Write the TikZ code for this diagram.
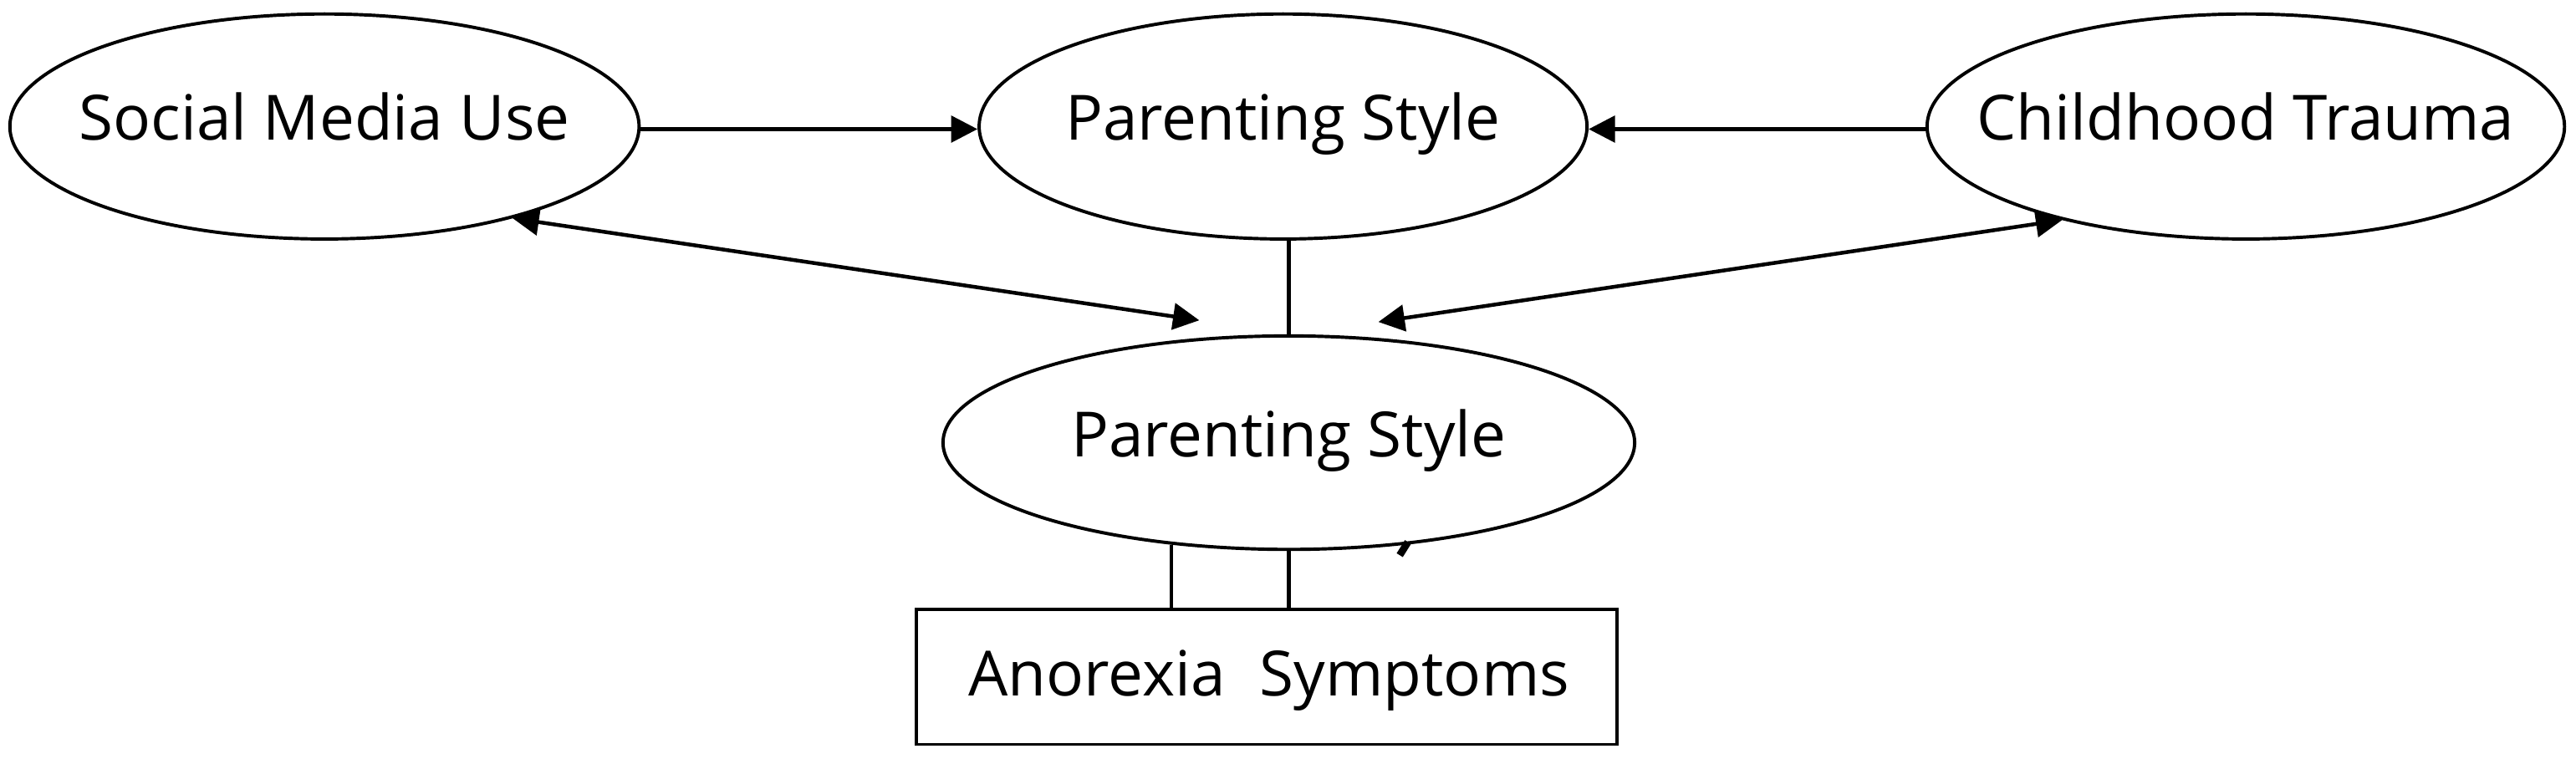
\documentclass[tikz,border=0pt]{standalone}
\usepackage{fontspec}
\setmainfont{Open Sans}
\usetikzlibrary{shapes.geometric,arrows.meta,calc}
\begin{document}
\begin{tikzpicture}[x=0.5pt,y=-0.5pt,
  oval/.style={draw,line width=1pt,ellipse,inner sep=0pt},
  rectbox/.style={draw,line width=1pt,rectangle,inner sep=0pt},
  lbl/.style={anchor=base,inner sep=0pt,font=\fontsize{19}{22}\selectfont},
  conn/.style={line width=1.15pt},
  arr/.style={conn,-{Triangle[length=8pt,width=8pt]}},
  barr/.style={conn,{Triangle[length=8pt,width=8pt]}-{Triangle[length=8pt,width=8pt]}}]
\useasboundingbox (0,0) rectangle (1568,462);
% shapes
\node[oval,minimum width=191.5pt,minimum height=68.5pt] (smu) at (197.5,77) {};
\node[oval,minimum width=185pt,minimum height=68.5pt] (ps1) at (781,77) {};
\node[oval,minimum width=194pt,minimum height=68.5pt] (ct) at (1367,77) {};
\node[oval,minimum width=210.5pt,minimum height=65pt] (ps2) at (784.5,269.5) {};
\node[rectbox,minimum width=213.3pt,minimum height=41.2pt] (ans) at (771,412) {};
% texts
\node[lbl] (smut) at ($(smu)+(0,8)$) {Social Media Use};
\node[lbl] (ps1t) at ($(ps1)+(0,8)$) {Parenting Style};
\node[lbl] (ctt) at ($(ct)+(0,8)$) {Childhood Trauma};
\node[lbl] (ps2t) at ($(ps2)+(0,8.5)$) {Parenting Style};
\node[lbl] (anst) at ($(ans)+(1.5,11.5)$) {Anorexia\hspace{0.55em}Symptoms};
% connectors
\coordinate (lj) at (730,195);
\coordinate (rj) at (839,196);
\draw[arr] ([yshift=-0.8pt]smu.east) -- ([yshift=-0.8pt]ps1.west);
\draw[arr] ([yshift=-0.8pt]ct.west) -- ([yshift=-0.8pt]ps1.east);
\draw[conn] (ps2.north) -- (ps2.north |- ps1.south);
\draw[barr] (smu.-26) -- (lj);
\draw[barr] (ct.-153) -- (rj);
\draw[conn] (ps2.south) -- (ps2.south |- ans.north);
\draw[conn] (ps2.221.5) -- (ps2.221.5 |- ans.north);
\draw[line width=2.2pt] (852,338) -- (857,330);
\end{tikzpicture}
\end{document}
